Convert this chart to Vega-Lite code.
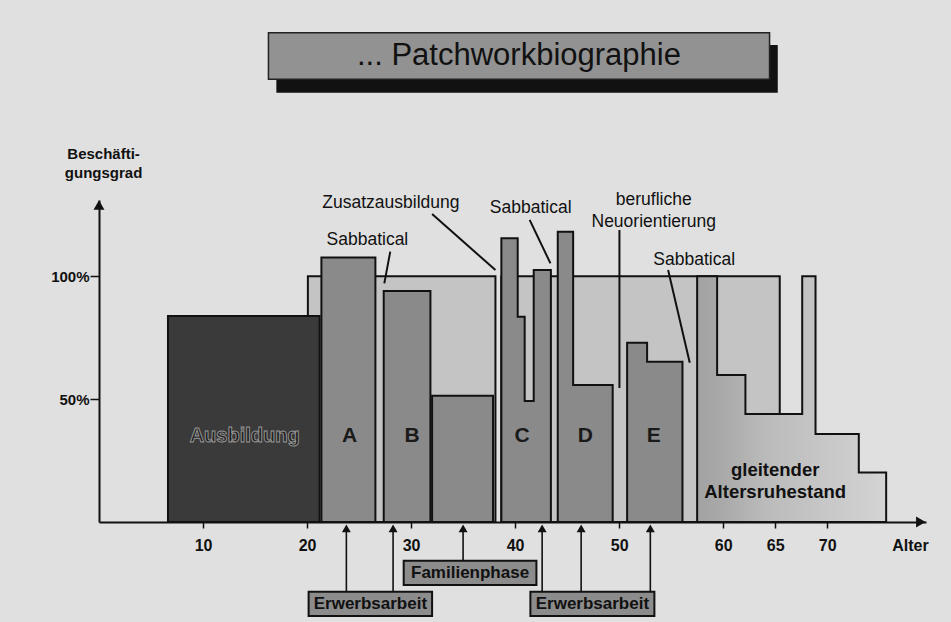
{
  "$schema": "https://vega.github.io/schema/vega-lite/v6.json",
  "width": 827,
  "height": 322,
  "autosize": {"type": "none"},
  "padding": {"left": 99, "top": 200, "right": 25, "bottom": 100},
  "background": "#e0e0e0",
  "config": {"view": {"stroke": null}, "font": "Liberation Sans"},
  "datasets": {
    "shapes": [
      {"s": "brick1", "k": "brick", "x": 20.08, "y": 100}, {"s": "brick1", "k": "brick", "x": 38.11, "y": 100},
      {"s": "brick2", "k": "brick", "x": 38.68, "y": 100}, {"s": "brick2", "k": "brick", "x": 65.44, "y": 100},
      {"s": "Ausbildung", "k": "dark", "x": 6.63, "y": 83.8}, {"s": "Ausbildung", "k": "dark", "x": 21.21, "y": 83.8},
      {"s": "A", "k": "mid", "x": 21.38, "y": 107.6}, {"s": "A", "k": "mid", "x": 26.57, "y": 107.6},
      {"s": "B", "k": "mid", "x": 27.37, "y": 94.0}, {"s": "B", "k": "mid", "x": 31.86, "y": 94.0},
      {"s": "Familie", "k": "mid", "x": 32.02, "y": 51.4}, {"s": "Familie", "k": "mid", "x": 37.88, "y": 51.4},
      {"s": "C", "k": "mid", "x": 38.68, "y": 115.4}, {"s": "C", "k": "mid", "x": 40.25, "y": 83.5}, {"s": "C", "k": "mid", "x": 40.92, "y": 49.2}, {"s": "C", "k": "mid", "x": 41.79, "y": 102.5}, {"s": "C", "k": "mid", "x": 43.44, "y": 102.5},
      {"s": "D", "k": "mid", "x": 44.10, "y": 118.1}, {"s": "D", "k": "mid", "x": 45.58, "y": 55.7}, {"s": "D", "k": "mid", "x": 49.38, "y": 55.7},
      {"s": "E", "k": "mid", "x": 50.77, "y": 72.9}, {"s": "E", "k": "mid", "x": 52.69, "y": 65.2}, {"s": "E", "k": "mid", "x": 56.09, "y": 65.2},
      {"s": "G", "k": "light", "x": 57.5, "y": 100}, {"s": "G", "k": "light", "x": 59.42, "y": 59.8}, {"s": "G", "k": "light", "x": 62.14, "y": 43.9}, {"s": "G", "k": "light", "x": 67.6, "y": 100}, {"s": "G", "k": "light", "x": 68.88, "y": 35.8}, {"s": "G", "k": "light", "x": 73.04, "y": 20.1}, {"s": "G", "k": "light", "x": 75.67, "y": 20.1}
    ],
    "pointers": [
      {"x": 32.02, "y": 125.3, "x2": 38.11, "y2": 102.5},
      {"x": 28.0, "y": 110.0, "x2": 27.43, "y2": 97.1},
      {"x": 41.4, "y": 122.9, "x2": 43.4, "y2": 105.2},
      {"x": 50.03, "y": 118.8, "x2": 50.03, "y2": 54.5},
      {"x": 54.71, "y": 102.5, "x2": 56.79, "y2": 64.8}
    ],
    "notes": [
      {"t": "Zusatzausbildung", "x": 28.06, "y": 129.7},
      {"t": "Sabbatical", "x": 25.8, "y": 114.7},
      {"t": "Sabbatical", "x": 41.5, "y": 127.6},
      {"t": "berufliche", "x": 53.33, "y": 131.0},
      {"t": "Neuorientierung", "x": 53.33, "y": 122.2},
      {"t": "Sabbatical", "x": 57.22, "y": 106.6}
    ],
    "phases": [
      {"t": "A", "x": 24.1, "y": 35}, {"t": "B", "x": 30.1, "y": 35}, {"t": "C", "x": 40.67, "y": 35},
      {"t": "D", "x": 46.76, "y": 35}, {"t": "E", "x": 53.33, "y": 35}
    ],
    "ausb": [{"t": "Ausbildung", "x": 14.0, "y": 35}],
    "ruhe": [{"t": "gleitender", "x": 65.0, "y": 21.2}, {"t": "Altersruhestand", "x": 65.0, "y": 12.3}],
    "arrows": [
      {"x": 23.78, "y": -28.36}, {"x": 28.27, "y": -28.36}, {"x": 35.0, "y": -15.74},
      {"x": 42.6, "y": -28.36}, {"x": 46.35, "y": -28.36}, {"x": 53.0, "y": -28.36}
    ],
    "boxes": [
      {"t": "Familienphase", "x": 29.29, "x2": 42.05, "y": -15.74, "y2": -25.63, "cx": 35.67, "cy": -20.7},
      {"t": "Erwerbsarbeit", "x": 20.15, "x2": 32.02, "y": -28.36, "y2": -38.24, "cx": 26.09, "cy": -33.3},
      {"t": "Erwerbsarbeit", "x": 41.47, "x2": 53.39, "y": -28.36, "y2": -38.24, "cx": 47.43, "cy": -33.3}
    ],
    "titlebox": [
      {"t": "... Patchworkbiographie", "x": 16.29, "x2": 64.46, "y": 180.1, "y2": 199.07, "sx": 17.05, "sx2": 65.25, "sy": 174.65, "sy2": 194.06, "cx": 40.37, "cy": 189.6}
    ],
    "axislabels": [
      {"t": "Alter", "x": 78.0, "y": -9.76}
    ],
    "ylabel": [
      {"t": "Beschäfti-\ngungsgrad", "x": 0.44, "y": 149.7}
    ]
  },
  "layer": [
    {
      "data": {"name": "shapes"},
      "transform": [{"filter": "datum.k === 'brick'"}],
      "mark": {"type": "area", "interpolate": "step-after", "fill": "#c4c4c4", "stroke": "#111", "strokeWidth": 2},
      "encoding": {
        "x": {"field": "x", "type": "quantitative", "title": null, "scale": {"domain": [0, 79.5], "nice": false, "zero": false},
          "axis": {"values": [10, 20, 30, 40, 50, 60, 65, 70], "title": null, "grid": false, "domainColor": "#111", "domainWidth": 2, "tickColor": "#111", "tickWidth": 1.5, "tickSize": 6, "labelFont": "Liberation Sans", "labelFontSize": 16, "labelFontWeight": "bold", "labelColor": "#111", "labelPadding": 9, "labelFlush": false}},
        "y": {"field": "y", "type": "quantitative", "title": null, "stack": null, "scale": {"domain": [0, 131], "nice": false},
          "axis": {"values": [50, 100], "title": null, "grid": false, "labelExpr": "datum.value + '%'", "domainColor": "#111", "domainWidth": 2, "tickColor": "#111", "tickWidth": 1.5, "tickSize": 9, "labelFont": "Liberation Sans", "labelFontSize": 15, "labelFontWeight": "bold", "labelColor": "#111", "labelPadding": 1}},
        "detail": {"field": "s"}
      }
    },
    {
      "data": {"name": "shapes"},
      "transform": [{"filter": "datum.k === 'dark' || datum.k === 'mid'"}],
      "mark": {"type": "area", "interpolate": "step-after", "stroke": "#111", "strokeWidth": 2},
      "encoding": {
        "x": {"field": "x", "type": "quantitative", "title": null},
        "y": {"field": "y", "type": "quantitative", "title": null, "stack": null},
        "detail": {"field": "s"},
        "fill": {"field": "k", "type": "nominal", "scale": {"domain": ["dark", "mid"], "range": ["#3a3a3a", "#8a8a8a"]}, "legend": null}
      }
    },
    {
      "data": {"name": "shapes"},
      "transform": [{"filter": "datum.k === 'light'"}],
      "mark": {"type": "area", "interpolate": "step-after", "stroke": "#111", "strokeWidth": 2,
        "fill": {"gradient": "linear", "x1": 0, "y1": 0, "x2": 1, "y2": 0, "stops": [{"offset": 0, "color": "#a2a2a2"}, {"offset": 0.12, "color": "#a8a8a8"}, {"offset": 0.35, "color": "#bababa"}, {"offset": 1, "color": "#d4d4d4"}]}},
      "encoding": {
        "x": {"field": "x", "type": "quantitative", "title": null},
        "y": {"field": "y", "type": "quantitative", "title": null, "stack": null},
        "detail": {"field": "s"}
      }
    },
    {
      "data": {"name": "pointers"},
      "mark": {"type": "rule", "color": "#111", "strokeWidth": 2},
      "encoding": {
        "x": {"field": "x", "type": "quantitative", "title": null},
        "y": {"field": "y", "type": "quantitative", "title": null},
        "x2": {"field": "x2", "title": null},
        "y2": {"field": "y2", "title": null}
      }
    },
    {
      "data": {"name": "arrows"},
      "mark": {"type": "rule", "color": "#111", "strokeWidth": 1.6},
      "encoding": {
        "x": {"field": "x", "type": "quantitative", "title": null},
        "y": {"field": "y", "type": "quantitative", "title": null},
        "y2": {"datum": -3}
      }
    },
    {
      "data": {"name": "arrows"},
      "mark": {"type": "point", "shape": "triangle-up", "filled": true, "color": "#111", "size": 80, "opacity": 1},
      "encoding": {
        "x": {"field": "x", "type": "quantitative", "title": null},
        "y": {"datum": -2.6, "type": "quantitative", "title": null}
      }
    },
    {
      "data": {"name": "boxes"},
      "mark": {"type": "rect", "fill": "#8c8c8c", "stroke": "#111", "strokeWidth": 2},
      "encoding": {
        "x": {"field": "x", "type": "quantitative", "title": null},
        "y": {"field": "y", "type": "quantitative", "title": null},
        "x2": {"field": "x2", "title": null},
        "y2": {"field": "y2", "title": null}
      }
    },
    {
      "data": {"name": "boxes"},
      "mark": {"type": "text", "font": "Liberation Sans", "fontSize": 17, "fontWeight": "bold", "color": "#111", "align": "center", "baseline": "middle"},
      "encoding": {
        "x": {"field": "cx", "type": "quantitative", "title": null},
        "y": {"field": "cy", "type": "quantitative", "title": null},
        "text": {"field": "t"}
      }
    },
    {
      "data": {"name": "titlebox"},
      "mark": {"type": "rect", "fill": "#111"},
      "encoding": {
        "x": {"field": "sx", "type": "quantitative", "title": null},
        "y": {"field": "sy", "type": "quantitative", "title": null},
        "x2": {"field": "sx2", "title": null},
        "y2": {"field": "sy2", "title": null}
      }
    },
    {
      "data": {"name": "titlebox"},
      "mark": {"type": "rect", "fill": "#929292", "stroke": "#222", "strokeWidth": 1.5},
      "encoding": {
        "x": {"field": "x", "type": "quantitative", "title": null},
        "y": {"field": "y", "type": "quantitative", "title": null},
        "x2": {"field": "x2", "title": null},
        "y2": {"field": "y2", "title": null}
      }
    },
    {
      "data": {"name": "titlebox"},
      "mark": {"type": "text", "font": "Liberation Sans", "fontSize": 31, "color": "#111", "align": "center", "baseline": "middle"},
      "encoding": {
        "x": {"field": "cx", "type": "quantitative", "title": null},
        "y": {"field": "cy", "type": "quantitative", "title": null},
        "text": {"field": "t"}
      }
    },
    {
      "data": {"name": "notes"},
      "mark": {"type": "text", "font": "Liberation Sans", "fontSize": 17.5, "color": "#111", "align": "center", "baseline": "middle"},
      "encoding": {
        "x": {"field": "x", "type": "quantitative", "title": null},
        "y": {"field": "y", "type": "quantitative", "title": null},
        "text": {"field": "t"}
      }
    },
    {
      "data": {"name": "phases"},
      "mark": {"type": "text", "font": "Liberation Sans", "fontSize": 21, "fontWeight": "bold", "color": "#1a1a1a", "align": "center", "baseline": "middle"},
      "encoding": {
        "x": {"field": "x", "type": "quantitative", "title": null},
        "y": {"field": "y", "type": "quantitative", "title": null},
        "text": {"field": "t"}
      }
    },
    {
      "data": {"name": "ausb"},
      "mark": {"type": "text", "font": "Liberation Sans", "fontSize": 20, "fontWeight": "bold", "color": "#1e1e1e", "stroke": "#9a9a9a", "strokeWidth": 0.9, "align": "center", "baseline": "middle"},
      "encoding": {
        "x": {"field": "x", "type": "quantitative", "title": null},
        "y": {"field": "y", "type": "quantitative", "title": null},
        "text": {"field": "t"}
      }
    },
    {
      "data": {"name": "ruhe"},
      "mark": {"type": "text", "font": "Liberation Sans", "fontSize": 18.5, "fontWeight": "bold", "color": "#111", "align": "center", "baseline": "middle"},
      "encoding": {
        "x": {"field": "x", "type": "quantitative", "title": null},
        "y": {"field": "y", "type": "quantitative", "title": null},
        "text": {"field": "t"}
      }
    },
    {
      "data": {"name": "axislabels"},
      "mark": {"type": "text", "font": "Liberation Sans", "fontSize": 16, "fontWeight": "bold", "color": "#111", "align": "center", "baseline": "middle"},
      "encoding": {
        "x": {"field": "x", "type": "quantitative", "title": null},
        "y": {"field": "y", "type": "quantitative", "title": null},
        "text": {"field": "t"}
      }
    },
    {
      "data": {"name": "ylabel"},
      "mark": {"type": "text", "font": "Liberation Sans", "fontSize": 15, "fontWeight": "bold", "color": "#111", "align": "center", "baseline": "middle", "lineBreak": "\n", "lineHeight": 19},
      "encoding": {
        "x": {"field": "x", "type": "quantitative", "title": null},
        "y": {"field": "y", "type": "quantitative", "title": null},
        "text": {"field": "t"}
      }
    },
    {
      "data": {"values": [{}]},
      "mark": {"type": "point", "shape": "triangle-right", "filled": true, "color": "#111", "size": 120, "opacity": 1},
      "encoding": {
        "x": {"datum": 79.0, "type": "quantitative", "title": null},
        "y": {"datum": 0, "type": "quantitative", "title": null}
      }
    },
    {
      "data": {"values": [{}]},
      "mark": {"type": "point", "shape": "triangle-up", "filled": true, "color": "#111", "size": 120, "opacity": 1},
      "encoding": {
        "x": {"datum": 0, "type": "quantitative", "title": null},
        "y": {"datum": 129.0, "type": "quantitative", "title": null}
      }
    }
  ]
}
